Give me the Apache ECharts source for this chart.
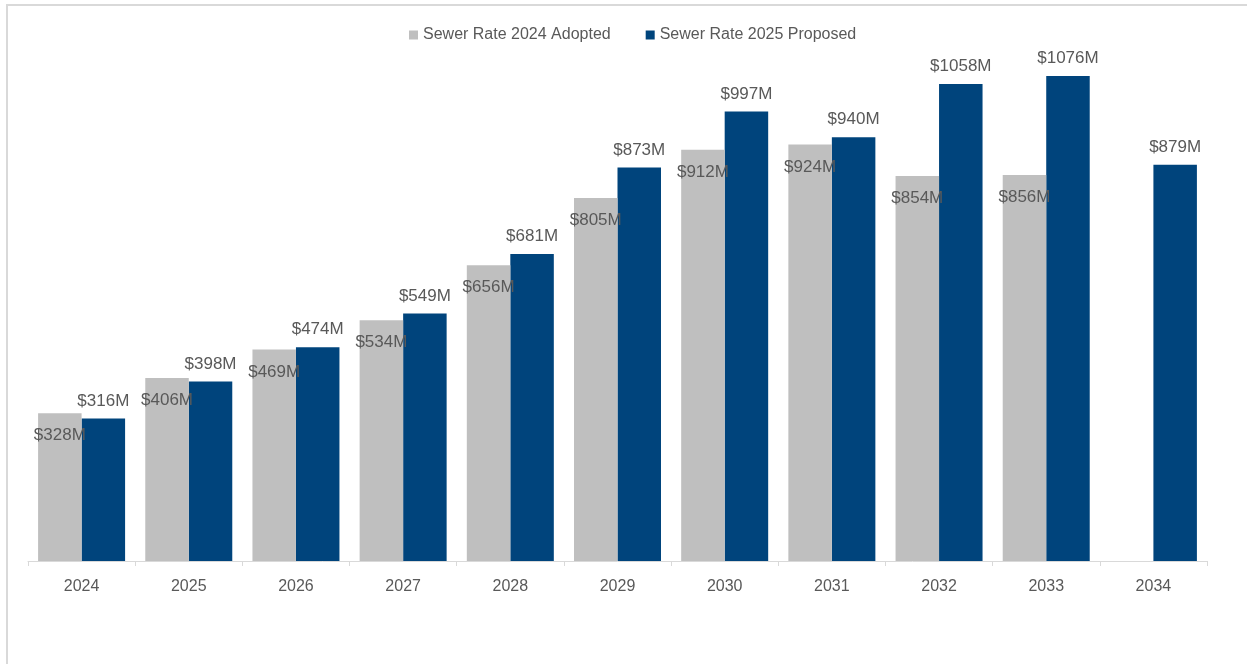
<!DOCTYPE html>
<html>
<head>
<meta charset="utf-8">
<script src="https://cdn.jsdelivr.net/npm/echarts@6/dist/echarts.min.js"></script>
<style>
  html, body { margin: 0; padding: 0; background: #fff; overflow: hidden; }
  #frame {
    position: absolute; left: 6px; top: 4px; width: 1260px; height: 680px;
    border-left: 2px solid #d9d9d9; border-top: 2px solid #d9d9d9;
  }
  #chart { position: absolute; left: 0; top: 0; width: 1247px; height: 664px; }
</style>
</head>
<body>
<div id="frame"></div>
<div id="chart"></div>
<script>
// data
const years = ['2024', '2025', '2026', '2027', '2028', '2029', '2030', '2031', '2032', '2033', '2034']
const adopted2024 = [328, 406, 469, 534, 656, 805, 912, 924, 854, 856, null]
const proposed2025 = [316, 398, 474, 549, 681, 873, 997, 940, 1058, 1076, 879]

const textColor = '#595959'
const fontFamily = '"Liberation Sans", Arial, sans-serif'

const chart = echarts.init(document.getElementById('chart'))
const options = {
  animation: false,
  textStyle: { fontFamily: fontFamily },
  legend: {
    top: 22,
    left: 404,
    itemWidth: 9,
    itemHeight: 9,
    itemGap: 35,
    icon: 'rect',
    textStyle: { color: textColor, fontSize: 16, fontFamily: fontFamily }
  },
  grid: { left: 28, right: 40, top: 20, bottom: 103 },
  xAxis: {
    type: 'category',
    data: years,
    axisLine: { lineStyle: { color: '#d9d9d9', width: 1 } },
    axisTick: { show: true, length: 5, lineStyle: { color: '#d9d9d9' } },
    axisLabel: { color: textColor, fontSize: 16, margin: 18, fontFamily: fontFamily }
  },
  yAxis: {
    type: 'value',
    min: 0,
    max: 1200,
    show: false,
    splitLine: { show: false }
  },
  series: [
    {
      name: 'Sewer Rate 2024 Adopted',
      type: 'bar',
      data: adopted2024,
      barWidth: 43.5,
      barGap: '0%',
      itemStyle: { color: '#bfbfbf' },
      label: {
        show: true,
        position: 'insideTop',
        distance: 14,
        color: textColor,
        fontSize: 17,
        fontFamily: fontFamily,
        formatter: p => '$' + p.value + 'M'
      },
      z: 2
    },
    {
      name: 'Sewer Rate 2025 Proposed',
      type: 'bar',
      data: proposed2025,
      barWidth: 43.5,
      itemStyle: { color: '#00447c' },
      label: {
        show: true,
        position: 'top',
        distance: 9,
        color: textColor,
        fontSize: 17,
        fontFamily: fontFamily,
        formatter: p => '$' + p.value + 'M'
      },
      z: 1
    }
  ]
}
chart.setOption(options)
</script>
</body>
</html>
